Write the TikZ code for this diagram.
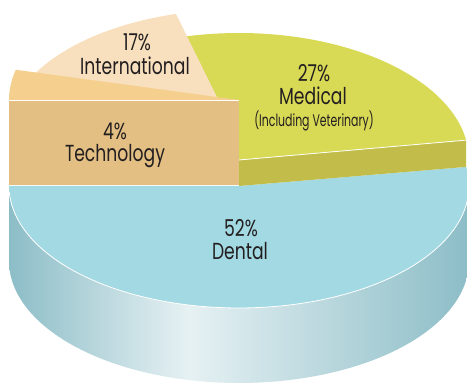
\documentclass[tikz,border=0pt]{standalone}
\usepackage{fontspec}
\setmainfont{Poppins}
\definecolor{dentaltop}{HTML}{A3D9E3}
\definecolor{wallA}{HTML}{8CBDC7}
\definecolor{wallB}{HTML}{E6F1F3}
\definecolor{medtop}{HTML}{D8D955}
\definecolor{medwall}{HTML}{C2BD4A}
\definecolor{intl}{HTML}{F8E0BE}
\definecolor{techtop}{HTML}{F5CF8D}
\definecolor{tanwall}{HTML}{E3BF83}
\definecolor{txt}{HTML}{231F20}
\pgfdeclarehorizontalshading{dentalwall}{100bp}{color(0bp)=(wallA); color(25bp)=(wallA); color(44.5bp)=(wallB); color(75bp)=(wallA); color(100bp)=(wallA)}
\newcommand{\mainlbl}[1]{\scalebox{0.86}[1.16]{#1}}
\newcommand{\sublbltext}[1]{\scalebox{0.78}[1.2]{#1}}
\begin{document}
\begin{tikzpicture}[x=1pt,y=1pt,
  lbl/.style={anchor=base, inner sep=0pt, text=txt, font=\fontsize{20}{24}\selectfont},
  sublbl/.style={anchor=base, inner sep=0pt, text=txt, font=\fontsize{14}{16}\selectfont},
  hilite/.style={white, line width=0.8pt}]
\useasboundingbox (0,0) rectangle (467,383);
\clip (0,0) rectangle (467,383);
% dental side wall
\shade[shading=dentalwall] plot[domain=180:360, samples=90] ({239+230*cos(\x)},{197+122*sin(\x)}) -- plot[domain=360:180, samples=90] ({239+230*cos(\x)},{122+122*sin(\x)}) -- cycle;
% dental top face
\fill[dentaltop] (239,197) -- plot[domain=180:369, samples=100] ({239+230*cos(\x)},{197+122*sin(\x)}) -- cycle;
\draw[hilite] plot[domain=183:357, samples=90] ({239+230*cos(\x)},{197+122*sin(\x)});
% medical wall and top
\fill[medwall] (239,223) -- ({239+230*cos(9)},{223+127*sin(9)}) -- ({239+230*cos(9)},{197+122*sin(9)}) -- (239,197) -- cycle;
\fill[medtop] (239,223) -- plot[domain=9:106, samples=80] ({239+230*cos(\x)},{223+127*sin(\x)}) -- cycle;
\draw[hilite] (239,223) -- ({239+230*cos(9)},{223+127*sin(9)});
% international (exploded)
\fill[intl] (235.5,248.3) -- plot[domain=105:166, samples=60] ({235.5+230*cos(\x)},{248.3+125*sin(\x)}) -- cycle;
% technology top and cut face
\fill[techtop] (239,283) -- plot[domain=166:180, samples=20] ({239+230*cos(\x)},{283+125*sin(\x)}) -- cycle;
\fill[tanwall] (9,198) rectangle (239,283);
\draw[hilite] (9,283) -- (239,283);
% labels
\node[lbl] (intp) at (137,332) {\mainlbl{17\%}};
\node[lbl] (intn) at (135,308) {\mainlbl{International}};
\node[lbl] (medp) at (314,301.5) {\mainlbl{27\%}};
\node[lbl] (medn) at (313,278) {\mainlbl{Medical}};
\node[sublbl] (meds) at (314,256) {\sublbltext{(Including Veterinary)}};
\node[lbl] (tecp) at (115,243) {\mainlbl{4\%}};
\node[lbl] (tecn) at (115,221.5) {\mainlbl{Technology}};
\node[lbl] (denp) at (241,146) {\mainlbl{52\%}};
\node[lbl] (denn) at (240,123) {\mainlbl{Dental}};
\end{tikzpicture}
\end{document}
